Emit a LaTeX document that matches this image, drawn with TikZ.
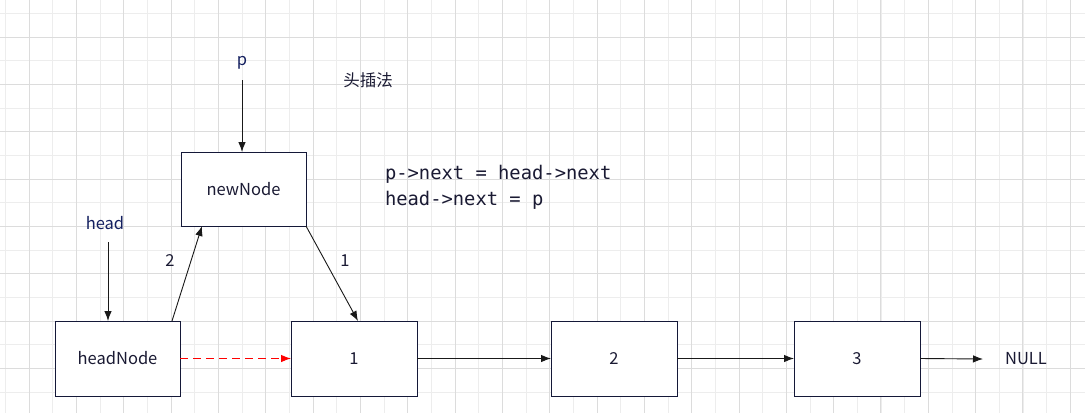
\documentclass[tikz,border=0pt]{standalone}
\usepackage{fontspec}
\setmainfont{Noto Sans CJK SC}
\newfontfamily\codefont{DejaVu Sans Mono}
\usetikzlibrary{arrows.meta}
\definecolor{gridminor}{HTML}{EDEDED}
\definecolor{gridmajor}{HTML}{DCDCDC}
\definecolor{boxline}{HTML}{141838}
\definecolor{txt}{HTML}{1A1A33}
\definecolor{lbl}{HTML}{142060}
\begin{document}
\begin{tikzpicture}[x=1pt,y=-1pt,
  every node/.style={inner sep=0pt, outer sep=0pt},
  listbox/.style={draw=boxline, line width=1pt, fill=white, minimum width=125pt, minimum height=75pt, font=\fontsize{16.5}{20}\selectfont, text=txt},
  lab/.style={font=\fontsize{16.5}{20}\selectfont, text=txt},
  conn/.style={draw=black!90, line width=0.9pt, -{Latex[length=10pt,width=7.5pt]}},
  redconn/.style={draw=red, line width=0.9pt, dash pattern=on 8pt off 5pt, -{Latex[length=10pt,width=7.5pt,fill=red]}},
  code/.style={font=\codefont\fontsize{18.8}{22}\selectfont, text=txt, anchor=west}
]
\useasboundingbox (0,0) rectangle (1085,413);
\fill[white] (0,0) rectangle (1085,413);
% grid
\foreach \i in {0,...,46} {
  \pgfmathsetmacro{\xx}{5.33+23.67*\i}
  \draw[gridminor, line width=0.8pt] (\xx,0) -- (\xx,413);
}
\foreach \i in {0,...,18} {
  \pgfmathsetmacro{\yy}{13.33+23.67*\i}
  \draw[gridminor, line width=0.8pt] (0,\yy) -- (1085,\yy);
}
\foreach \i in {0,...,22} {
  \pgfmathsetmacro{\xx}{29+47.33*\i}
  \draw[gridmajor, line width=0.9pt] (\xx,0) -- (\xx,413);
}
\foreach \i in {0,...,8} {
  \pgfmathsetmacro{\yy}{37+47.33*\i}
  \draw[gridmajor, line width=0.9pt] (0,\yy) -- (1085,\yy);
}
% nodes
\node[listbox, minimum height=74pt] (newnode) at (243.5,189) {newNode};
\node[listbox] (headnode) at (117.5,358.5) {headNode};
\node[listbox, minimum width=126pt] (n1) at (354,358.5) {1};
\node[listbox, minimum width=126pt] (n2) at (614,358.5) {2};
\node[listbox, minimum width=126pt] (n3) at (857,358.5) {3};
\node[lab] (null) at (1026,359) {NULL};
\node[lab, text=lbl] (p) at (242,63) {p};
\node[lab, text=lbl] (head) at (105,223) {head};
\node[lab] (title) at (368,80) {头插法};
\node[lab] (l2) at (170,261) {2};
\node[lab] (l1) at (345,261) {1};
\node[code] (c1) at (385,174.5) {p->next = head->next};
\node[code] (c2) at (385,200.5) {head->next = p};
\coordinate (pstart) at (242,80);
\coordinate (hstart) at (108,242);
\coordinate (nullend) at (983,359);
% connectors
\draw[conn] (pstart) -- (newnode.north -| pstart);
\draw[conn] (hstart) -- (headnode.north -| hstart);
\draw[conn] ([xshift=117pt]headnode.north west) -- ([xshift=21pt]newnode.south west);
\draw[conn] (newnode.south east) -- ([xshift=4pt]n1.north);
\draw[redconn] (headnode.east) -- (n1.west);
\draw[conn] (n1.east) -- (n2.west);
\draw[conn] (n2.east) -- (n3.west);
\draw[conn] (n3.east) -- (nullend);
\end{tikzpicture}
\end{document}
